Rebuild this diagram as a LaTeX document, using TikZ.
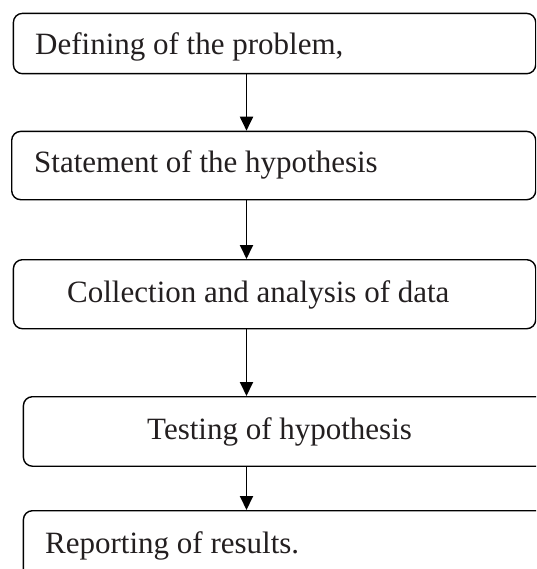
\documentclass[tikz,border=0pt]{standalone}
\usepackage{fontspec}
\setmainfont{Liberation Serif}
\usetikzlibrary{arrows.meta}
\definecolor{inkgray}{RGB}{35,31,32}
\begin{document}
\begin{tikzpicture}[x=1pt,y=-1pt,
  stepbox/.style={draw=black, line width=1.4pt, rounded corners=9pt,
    anchor=north west, inner sep=0pt},
  steptext/.style={anchor=base west, inner sep=0pt, text=inkgray,
    font=\fontsize{31}{37}\selectfont},
  flowarrow/.style={draw=black, line width=1.9pt,
    -{Triangle[width=13pt,length=14pt]}}]
\useasboundingbox (0,0) rectangle (536,569);
\clip (0,0) rectangle (536,569);

% boxes of the procedure
\node[stepbox, minimum width=522.3pt, minimum height=60.3pt] (b1) at (12.7,12.7) {};
\node[stepbox, minimum width=524pt,   minimum height=68.3pt] (b2) at (11,130.7) {};
\node[stepbox, minimum width=522.3pt, minimum height=69pt]   (b3) at (12.7,259) {};
\node[stepbox, minimum width=540pt,   minimum height=69.5pt] (b4) at (22.7,396) {};
\node[stepbox, minimum width=540pt,   minimum height=80pt]   (b5) at (22.7,510) {};

% labels
\node[steptext] (t1) at (35,55)  {Defining of the problem,};
\node[steptext] (t2) at (34,173) {Statement of the hypothesis};
\node[steptext] (t3) at (67,302) {Collection and analysis of data};
\node[steptext] (t4) at (147,439) {Testing of hypothesis};
\node[steptext] (t5) at (45,553) {Reporting of results.};

% vertical flow line
\coordinate (axis) at (246.5,0);
\draw[flowarrow] (b1.south -| axis) -- (b2.north -| axis);
\draw[flowarrow] (b2.south -| axis) -- (b3.north -| axis);
\draw[flowarrow] (b3.south -| axis) -- (b4.north -| axis);
\draw[flowarrow] (b4.south -| axis) -- (b5.north -| axis);
\end{tikzpicture}
\end{document}
